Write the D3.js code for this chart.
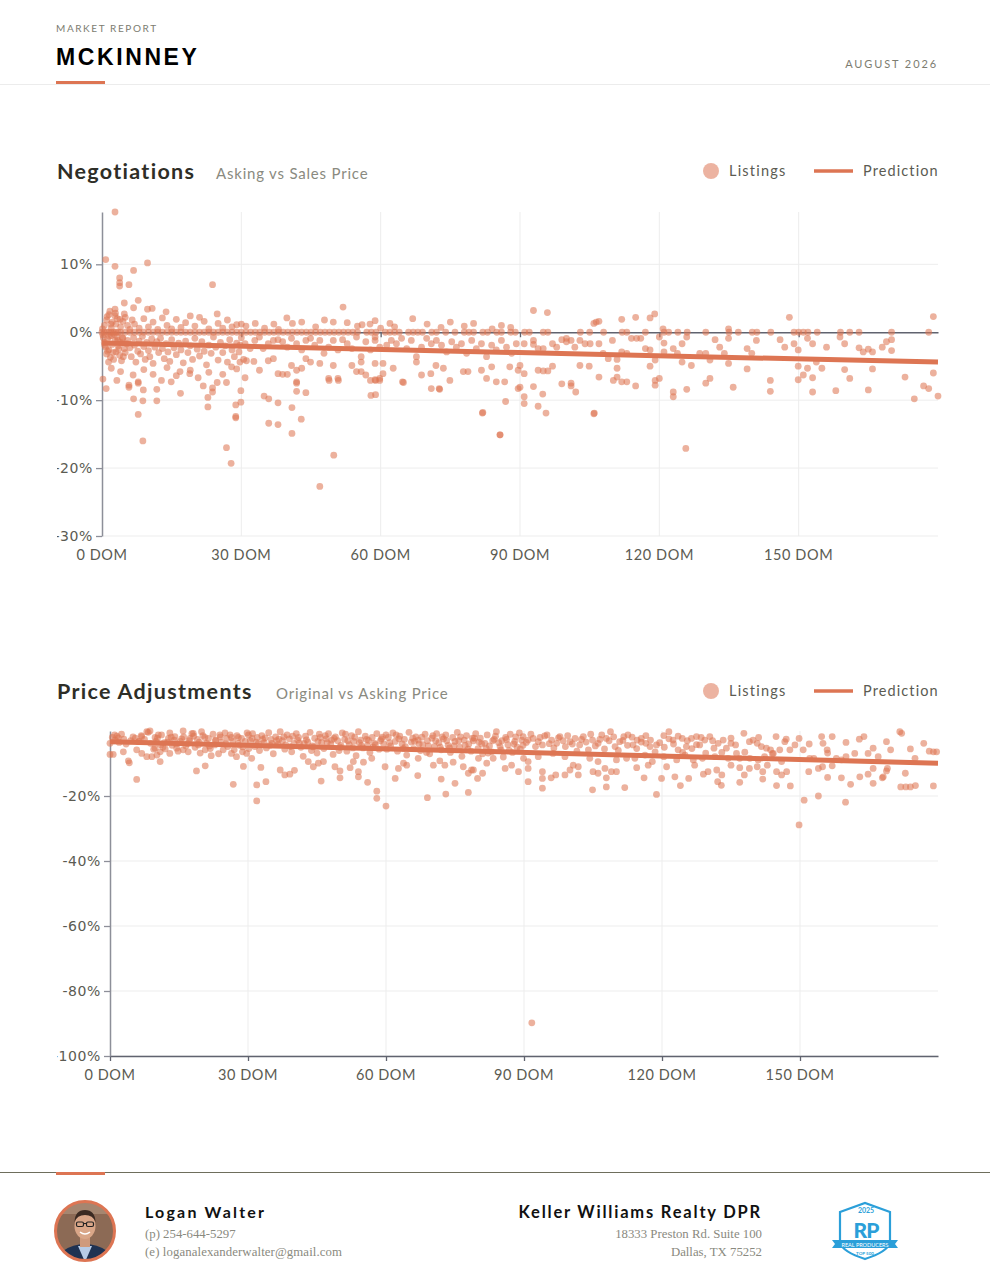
<!DOCTYPE html>
<html>
<head>
<meta charset="utf-8">
<script src="https://cdn.jsdelivr.net/npm/d3@7"></script>
<style>
  body { margin: 0; background: #fff; }
</style>
</head>
<body>
<div id="page"></div>
<script>
// ---- data ----
const domTicks = [0, 30, 60, 90, 120, 150];
const negYTicks = [10, 0, -10, -20, -30];
const adjYTicks = [-20, -40, -60, -80, -100];

// days on market of listings that sold exactly at asking price (0%)
const negAtAsking = [0,0.5,1,1.5,2,2.5,3,3.5,4,5,6,7,8,9,10,11,12,13,14,15,16,17,18,19,20,21,22,23,24,25,26,27,28,29,30,31,32,33,34,35,36,37,38,39,40,41,42,43,44,45,46,47,48,49,50,51,52,53,54,55,57,58,59,61,62,63,64,66,67,68,69,71,72,74,76,78,79,80,82,83,85,86,88,89,91,92,95,96,103,105,108,112,113,117,121,122,124,126,130,135,137,140,141,144,149,150,151,152,154,159,161,163,170,178];

// [days on market, % sale vs asking]
const negotiations = [
  [2.8,17.7],[0.8,10.7],[2.8,9.7],[9.8,10.2],[6.8,9.1],[3.8,8.0],[3.8,7.3],[3.8,6.8],[5.8,7.0],[23.8,7.0],[7.8,4.7],[4.8,4.3],[6.8,3.6],[9.8,3.4],[10.8,3.5],[1.7,3.1],[2.8,3.4],[13.8,3.0],[4.8,2.7],[2.8,2.4],[51.9,3.7],[39.8,2.1],[24.8,2.7],[66.9,2.0],[47.9,1.8],[49.8,1.5],[52.8,1.4],[58.8,1.7],[57.7,1.2],
  [0.5,1.0],[1,1.8],[1.5,2.6],[2,0.6],[2.2,1.5],[3,1.2],[3.3,2.0],[4,0.8],[4.5,1.6],[5,2.2],[5.5,1.0],[6,0.4],[6.5,1.8],[7,1.2],[8,0.6],[9,2.0],[10,0.8],[11,1.5],[12,0.4],[13,2.1],[14,1.0],[15,0.5],[16,1.9],[17,0.7],[18,1.4],[19,2.4],[20,0.9],[21,2.2],[22,1.6],[23,0.5],[25,1.3],[26,0.6],[27,1.8],[28,0.8],[29,1.1],[30,1.2],[31,0.9],[33,1.3],[35,0.6],[37,1.2],[38,0.4],[41,1.3],[43,1.5],[46,0.8],[55,0.9],[56,1.1],[60,0.6],[62,1.3],[63,0.8],[70,1.2],[73,0.7],[75,1.5],[78,0.9],[80,1.3],[84,0.5],[86,1.0],[88,0.7],
  [1.1,2.3],[1.9,1.2],[2.9,2.8],[3.9,1.9],[0.1,0.5],
  [92.9,3.2],[95.9,2.9],[105.9,1.3],[107,1.6],[111.9,1.9],[114.9,2.2],[118,2.1],[119,2.7],[148,2.2],[179,2.3],[120.8,0.5],[134.9,0.5],[106.4,1.5],
  [0.3,-0.8],[0.5,-1.5],[0.8,-2.2],[1,-3.2],[1.2,-1.0],[1.5,-2.6],[1.8,-3.7],[2,-0.5],[2.2,-1.8],[2.5,-4.0],[2.8,-1.2],[3,-2.9],[3.2,-0.7],[3.5,-2.0],[3.8,-3.4],[4,-1.5],[4.2,-4.2],[4.5,-0.9],[4.8,-2.4],[5,-3.0],[5.3,-1.7],[0.2,-0.4],[0.6,-1.9],[1.2,-2.8],[1.6,-0.6],[2.4,-3.0],[2.6,-0.3],[3.4,-1.2],[3.6,-2.5],[4.4,-0.8],[4.6,-3.6],[1.4,-4.4],
  [5.5,-1.2],[6,-2.3],[6.3,-3.6],[6.8,-0.8],[7,-1.9],[7.3,-4.4],[7.7,-2.8],[8,-1.3],[8.3,-3.2],[8.7,-0.6],[9,-2.1],[9.3,-4.0],[9.6,-1.5],[10,-2.7],[10.3,-3.6],[10.7,-1.0],[11,-4.6],[11.4,-2.2],[11.8,-1.4],[12.2,-3.0],[12.6,-0.9],[13,-2.4],[13.4,-3.9],[13.8,-1.7],[14.2,-2.9],[14.6,-4.3],[15,-1.1],[15.5,-2.3],[16,-3.3],[16.5,-1.6],[17,-2.6],[17.5,-4.5],[18,-1.3],[18.5,-3.0],[19,-2.0],[19.5,-4.0],[20,-0.9],[20.5,-2.5],[21,-3.5],[21.5,-1.4],[22,-2.8],[22.5,-4.8],[23,-1.9],[23.5,-3.1],[24,-0.7],[24.5,-2.2],[25,-4.1],[25.5,-1.5],[26,-3.0],[26.5,-2.0],[27,-4.4],[27.5,-1.1],[28,-2.6],[28.5,-3.6],[29,-1.6],[29.5,-2.9],[30,-0.8],[30.5,-4.0],
  [2,-5.3],[4,-5.8],[9,-5.5],[11,-6.2],[14,-5.2],[16,-6.4],[19,-5.6],[23,-5.9],[26,-6.2],[29,-5.4],
  [0.2,-6.9],[0.9,-8.3],[3.2,-7.1],[5.8,-7.8],[5.8,-8.1],[7.8,-7.3],[7.8,-7.5],[12.8,-7.1],[14.9,-7.3],[6.8,-9.8],[8.8,-10.1],[11.8,-8.4],[11.8,-10.1],[16.9,-9.0],[7.8,-12.1],[8.8,-16.0],[21.8,-7.9],[22.8,-9.6],[22.8,-11.0],[23.8,-8.2],[23.8,-8.8],[24.8,-7.4],[26.8,-7.4],[26.8,-17.0],[27.8,-19.3],[28.8,-10.7],[28.8,-12.4],[28.8,-12.6],[29.9,-8.6],[29.9,-10.3],
  [6.7,-6.3],[8.9,-8.5],[16.8,-5.8],[18.9,-6.1],[20.7,-6.7],[27.9,-5.1],[30.8,-6.7],
  [34.9,-9.4],[35.9,-9.8],[35.9,-13.4],[37.9,-10.4],[37.9,-13.6],[40.9,-11.1],[40.9,-14.9],[41.9,-7.3],[41.9,-7.5],[41.9,-8.7],[42.9,-12.8],[43.9,-8.9],[46.9,-22.7],[49.9,-18.1],[48.9,-7.1],[50.9,-7.1],[57.9,-9.3],[58.9,-9.2],[58.9,-7.1],[59.8,-7.1],[64.9,-7.4],[70.9,-8.3],[72.6,-8.3],
  [29.7,-1.9],[30.8,-1.7],[31.9,-2.4],[32.9,-1.2],[33.9,-0.7],[34.7,-2.4],[35.8,-1.7],[36.9,-1.2],[37.9,-1.1],[38.9,-1.4],[39.9,-2.2],[40.8,-0.9],[41.9,-1.7],[43,-2.6],[43.9,-1.2],[44.9,-0.9],[45.8,-1.9],[46.9,-1.2],[47.8,-3.1],[48.8,-2.2],[49.8,-1.2],[50.8,-2.6],[51.8,-1.1],[52.8,-1.7],[53.8,-2.4],[54.8,-0.7],[55.8,-3.6],[56.8,-1.4],[57.8,-2.6],[58.8,-0.7],[58.8,-1.2],[59.8,-2.2],
  [29.7,-4.4],[31.1,-4.2],[32.7,-4.3],[33.9,-5.6],[35.8,-4.2],[36.9,-3.9],[37.9,-6.1],[38.9,-6.2],[39.9,-6.2],[40.8,-4.9],[41.9,-5.6],[43,-5.3],[43.9,-3.9],[44.9,-4.4],[46.9,-4.6],[48.8,-6.8],[49.8,-4.9],[50.8,-6.8],[53.8,-4.9],[54.8,-5.8],[55.8,-4.4],[55.8,-5.8],[56.8,-6.3],[57.8,-7.1],[58.8,-4.6],[58.8,-7.0],[59.8,-6.8],
  [61.3,-1.9],[62.3,-1.2],[63.4,-1.7],[64.5,-0.9],[65.6,-2.4],[66.6,-1.2],[67.7,-3.6],[68.8,-2.2],[69.9,-0.9],[70.9,-1.7],[72,-1.2],[73.1,-1.9],[74.2,-2.9],[75.3,-1.4],[76.3,-2.2],[77.4,-1.7],[78.5,-3.1],[79.6,-1.2],[80.6,-2.4],[81.7,-1.7],[82.8,-3.6],[83.9,-1.9],[84.9,-2.6],[86,-1.2],[87.1,-2.2],[88.2,-3.1],[89.2,-1.7],
  [60.5,-4.6],[60.5,-6.1],[62.7,-5.3],[64.7,-7.3],[67.7,-4.4],[68.8,-6.3],[70.8,-6.1],[71.9,-4.9],[72.7,-8.4],[73.5,-5.3],[74.9,-7.1],[77.8,-5.8],[78.8,-5.8],[81.7,-5.6],[82.8,-6.8],[83.9,-5.1],[84.9,-7.3],[86.7,-7.3],[86.9,-10.2],[87.8,-5.1],[89.6,-5.6],[89.6,-8.3],[81.9,-11.9],[85.7,-15.1],
  [90.9,-1.7],[92.9,-1.2],[92.9,-1.8],[93.9,-2.4],[95,-2.4],[97,-1.7],[97.9,-2.2],[99,-1.1],[100,-0.9],[100,-1.4],[101,-1.2],[101.8,-2.2],[102.9,-1.2],[104,-1.7],[105.1,-1.7],[107,-1.7],[107.9,-3.1],[109,-3.9],[109.9,-1.2],[110.9,-4.0],[111.9,-2.9],[113,-3.1],[114,-0.9],[115.1,-0.9],[116,-0.9],[117,-2.4],[118,-2.6],[119.1,-4.1],[120,-0.7],[121,-1.6],[121,-2.9],[123,-2.4],[123.9,-3.1],[124.9,-1.7],[124.9,-4.4],[125.9,-0.7],[126.9,-4.9],[128.7,-3.1],[130,-3.1],[130.9,-4.1],[132,-1.1],[133,-2.2],[134,-3.1],[134.9,-0.9],[134.9,-4.6],[138.9,-2.4],[139.9,-3.1],[140.9,-1.2],[146,-1.1],[147,-2.2],[149,-1.7],[149.9,-2.6],[151.9,-0.9],[153,-1.7],[153.8,-4.4],[156,-2.2],[158.9,-0.7],[159.9,-1.7],[163,-2.3],[163.9,-2.9],[165,-2.5],[165.9,-2.9],[168,-2.2],[168.9,-1.4],[170,-1.1],[170,-2.7],
  [90,-4.9],[90.9,-6.1],[93.9,-5.6],[95,-5.7],[96,-5.7],[97,-5.0],[99,-7.6],[101,-7.5],[101,-7.9],[102,-8.8],[102.9,-4.9],[104.9,-5.0],[107,-6.6],[110.1,-7.1],[110.9,-5.3],[110.9,-6.6],[111.9,-7.3],[113,-7.3],[114.9,-7.9],[118,-5.0],[119.1,-7.1],[119.1,-7.8],[120,-6.8],[123,-8.8],[123,-9.5],[125.9,-8.4],[130,-7.5],[130.9,-6.8],[135.9,-8.1],[138.9,-5.4],[143.9,-7.1],[143.9,-8.7],[149.9,-5.0],[149.9,-7.0],[151,-6.3],[151.9,-5.3],[153,-6.7],[153,-8.8],[155,-5.3],[158,-8.6],[159.9,-5.5],[161,-6.8],[165,-8.5],[165.9,-5.4],[172.9,-6.6],[174.9,-9.8],[176.9,-7.9],[178,-8.3],[179,-6.0],[180,-9.4],[90,-8.1],[90.9,-9.5],[90.9,-10.5],[93.9,-10.9],[94.9,-9.1],[105.9,-12.0],[92.9,-8.0],
  [82,-11.8],[85.7,-15.1],[125.7,-17.1],[95.6,-11.9],[106,-11.9]
];

// [days on market, % asking vs original list price]
const adjustments = [
  [0,-3.8],[0,-7.2],[0.7,-7.2],[1.1,-2.8],[1.8,-2.1],[2.9,-6.4],[4,-9.2],[4.2,-9.8],[5.8,-14.9],[5.8,-5.8],[6.2,-3.3],[6.9,-1.7],[6.9,-6.9],[8,-0.2],[8,-7.9],[8.7,0],[9.1,-7.9],[9.8,-5.3],[10.9,-6.4],[10.9,-9.4],[11.2,-1.2],[12,-5.5],[12.7,-2.3],[13,-6.9],[14.1,-1.7],[14.5,-5.3],[15.9,0],[15.9,-5.8],[17,-6.4],[17.4,-2.3],[18.1,-0.7],[18.8,-12.3],[19.2,-4.3],[19.9,-0.2],[20.7,-5.8],[20.7,-10.7],[21.4,-2.3],[22,-7.6],[22.8,-4.3],[23.9,-1.2],[24.6,-5.8],[25.4,-2.3],[26.1,-1.2],[26.4,-6.9],[26.8,-16.4],[27.5,-7.9],[27.9,-3.8],[28.6,-2.3],[29,-10.9],[29.7,-6.9],[30.1,-1.2],
  [0.5,-2.0],[1,-1.2],[1.5,-1.6],[2,-3.5],[2.5,-1.0],[3,-2.5],[3.5,-4.0],[4.5,-3.0],[5,-1.8],[5.5,-2.2],[6.3,-3.2],[6.8,-1.4],[7.5,-2.6],[8.3,-0.4],[8.8,-3.8],[9.5,-5.6],[9.8,-2.0],[10.2,-7.4],[11,-4.2],
  [10,-3.2],[10.5,-1.2],[11.5,-5.0],[12.5,-3.4],[13,-0.6],[13.5,-4.4],[14,-2.8],[14.8,-6.2],[15.3,-3.2],[16,-1.8],[16.5,-4.6],[17.2,-3.0],[17.8,-0.8],[18.5,-5.0],[19,-2.6],[19.6,-6.8],[20.2,-1.4],[21,-3.8],[21.8,-5.4],[22.4,-1.0],[23,-2.8],[23.6,-7.0],[24.2,-3.4],[25,-0.6],[25.6,-4.8],[26.4,-2.0],[27,-5.8],[27.6,-1.4],[28.2,-4.4],[28.8,-6.4],[29.4,-3.2],[29.8,-0.6],
  [10.3,-2.2],[11.8,-3.6],[13.3,-1.9],[14.4,-4.0],[15.6,-2.4],[16.8,-3.9],[18.2,-1.6],[19.4,-3.4],[20.6,-2.0],[21.6,-4.6],[22.9,-3.0],[24,-1.8],[25.2,-4.0],[26.7,-3.1],[27.9,-2.0],[28.9,-4.9],
  [30.5,-3.0],[31,-0.8],[31.5,-4.8],[32,-2.0],[32.5,-6.0],[33,-1.4],[33.5,-3.6],[34,-5.2],[34.5,-0.5],[35,-2.6],[35.5,-7.0],[36,-1.8],[36.5,-4.2],[37,-0.2],[37.5,-3.0],[38,-5.6],[38.5,-1.2],[39,-2.4],[39.5,-6.4],[40,-3.8],[40.5,-0.8],[41,-2.0],[41.5,-5.0],[42,-7.8],[42.5,-1.6],[43,-3.4],[43.5,-0.4],[44,-4.6],[44.5,-2.2],[45,-6.8],[45.5,-1.0],[46,-3.6],[46.5,-5.4],[47,-2.4],[47.5,-0.8],[48,-4.0],[48.5,-7.2],[49,-1.8],[49.5,-3.0],[50,-5.0],[50.5,-0.6],[51,-2.6],[51.5,-6.2],[52,-4.2],[52.5,-1.4],[53,-3.2],[53.5,-7.6],[54,-0.2],[54.5,-2.8],[55,-5.2],[55.5,-1.6],[56,-4.4],[56.5,-6.6],[57,-2.0],[57.5,-3.8],[58,-0.8],[58.5,-5.6],[59,-2.4],[59.5,-4.0],[60,-1.2],
  [30.2,-5.4],[31.8,-3.4],[33.2,-2.6],[34.8,-4.4],[36.2,-3.0],[37.8,-1.8],[39.2,-4.8],[40.8,-2.8],[42.2,-3.8],[43.8,-6.0],[45.2,-3.2],[46.8,-1.4],[48.2,-2.8],[49.8,-6.0],[51.2,-1.0],[52.8,-5.2],[54.2,-3.6],[55.8,-2.6],[57.2,-5.0],[58.8,-3.0],
  [30.9,-2.3],[32.2,-4.0],[33.7,-2.1],[35.2,-3.8],[36.7,-2.5],[38.2,-4.3],[39.7,-1.6],[41.2,-3.7],[42.7,-2.7],[44.2,-4.9],[45.7,-2.0],[47.2,-3.6],[48.7,-2.3],[50.2,-4.4],[51.7,-3.0],[53.2,-1.9],[54.7,-4.5],[56.2,-2.9],[57.7,-4.2],[59.2,-1.9],
  [60.5,-2.0],[61,-4.6],[61.5,-0.6],[62,-3.2],[62.5,-6.2],[63,-1.6],[63.5,-4.0],[64,-2.6],[64.5,-7.4],[65,-0.4],[65.5,-3.4],[66,-5.4],[66.5,-1.8],[67,-2.8],[67.5,-6.0],[68,-4.2],[68.5,-1.0],[69,-3.0],[69.5,-7.0],[70,-2.2],[70.5,-4.8],[71,-0.8],[71.5,-3.6],[72,-5.8],[72.5,-2.4],[73,-1.2],[73.5,-4.4],[74,-6.6],[74.5,-2.0],[75,-3.2],[75.5,-0.4],[76,-5.0],[76.5,-7.8],[77,-2.8],[77.5,-1.4],[78,-4.0],[78.5,-6.2],[79,-3.0],[79.5,-0.8],[80,-5.4],[80.5,-2.2],[81,-7.0],[81.5,-3.8],[82,-1.2],[82.5,-4.6],[83,-6.4],[83.5,-2.6],[84,-0.2],[84.5,-3.6],[85,-5.8],[85.5,-8.0],[86,-2.0],[86.5,-4.2],[87,-1.0],[87.5,-6.6],[88,-3.2],[88.5,-5.0],[89,-0.6],[89.5,-2.8],
  [60.2,-5.6],[62.2,-1.2],[63.8,-5.4],[65.8,-2.2],[67.2,-4.0],[68.8,-6.6],[70.2,-1.4],[71.8,-5.0],[73.2,-3.0],[74.8,-4.6],[76.2,-1.8],[77.8,-5.6],[79.2,-2.2],[80.8,-4.0],[82.2,-6.8],[83.8,-1.6],[85.2,-3.0],[86.8,-6.0],[88.2,-1.8],[89.8,-4.4],
  [60.8,-3.6],[62.8,-2.4],[64.2,-4.8],[66.2,-3.2],[67.8,-1.9],[69.2,-4.6],[70.8,-3.0],[72.2,-1.8],[73.8,-5.2],[75.8,-3.0],[77.2,-4.4],[78.8,-2.2],[80.2,-3.4],[81.8,-5.4],[83.2,-3.0],[84.8,-4.8],[86.2,-2.6],[87.8,-4.0],[89.2,-5.6],
  [30.8,-8.4],[32.8,-11.2],[37,-12],[38,-13.5],[39.1,-13.3],[40.1,-12.1],[43.1,-9.4],[44.2,-11],[45.3,-9.9],[46.4,-9.4],[48.9,-11],[50,-12.3],[52.2,-11.3],[52.9,-9.4],[55.1,-9.6],[56.9,-8.4],[59.8,-11],[62.7,-11.5],[63.8,-9.9],[64.5,-10.5],[67,-8.4],[70.3,-10.5],[71.7,-9.2],[72.8,-10.5],[74.6,-9.6],[76.8,-11],[78.6,-12],[80.1,-8.4],[81.9,-9.9],[83.3,-8.4],[85.9,-11.5],[87.3,-10.5],[88.8,-12.5],[89.9,-8.4],
  [31.9,-16.6],[31.9,-21.5],[33.9,-15.6],[45.9,-15.4],[50,-14.4],[54,-14.1],[54,-12.5],[56,-15.8],[58,-18.5],[58,-20.7],[60,-23.1],[62,-14.6],[66.9,-13.7],[69,-20.5],[72,-14.8],[73,-19.4],[75,-16.1],[77.9,-18.9],[77.9,-13],[79.9,-14.6],[81,-13],[79,-12],
  [89.8,-1.7],[90.9,-2.8],[92,-2.3],[93.1,-3.3],[94,-4.3],[95,-1.2],[96,-2.8],[97.1,-3.8],[97.8,-1.7],[99,-4.8],[100,-3.3],[101.1,-2.3],[102.1,-4.3],[102.9,-1.7],[104,-5.8],[104.9,-2.8],[106.1,-3.8],[106.9,-1.2],[107.9,-2.3],[108.8,-0.2],[109.8,-4.8],[110.8,-3.3],[111.7,-1.7],[112.6,-1.2],[113.7,-4.3],[114.6,-2.8],[115.5,-2.3],[116.5,-3.8],[117.4,-4.8],[117.9,-9.4],[118.8,-4.3],[120.4,-1.4],[121.5,-0.2],[122.4,-2.8],[123.5,-5.8],[124.4,-2.3],[125.3,-4.8],[126.4,-2.3],[127.5,-1.7],[128.2,-4.3],[129.3,-2.8],[130.4,-1.7],[131.3,-5.3],[132.2,-3.8],[133.3,-2.8],[134,-5.3],[135,-3.8],[136,-4.3],[136.9,-8.4],[137.8,-0.7],[139,-3.3],[139.8,-2.8],[140.7,-3.8],[141.6,-4.8],[142.7,-5.3],[143.6,-5.8],[144.8,-1.7],[145.6,-5.8],[146.7,-3.3],[147.8,-5.8],[148.9,-4.3],[149.8,-2.3],[150.7,-5.8],[152.1,-8.4],[153,-8.4],[154.7,-1.7],[155,-3.8],[155.9,-5.8],[157,-1.7],[157.9,-8.4],[159,-8.9],[160,-7.9],[161.9,-6.9],[162.9,-2.5],[163.9,-1.7],[164.8,-6.9],[165.9,-5.3],[167,-7.9],[168.8,-3.3],[169.7,-5.8],[171.7,-0.2],[172.1,-0.7],[174,-5.5],[175,-8.4],[176.9,-3.8],[178.1,-6.2],[179,-6.4],[179.7,-6.4],
  [90.5,-3.5],[91.5,-1.0],[92.5,-4.8],[93.5,-2.0],[94.5,-1.5],[95.5,-3.9],[96.5,-5.2],[97.5,-2.1],[98.5,-3.0],[99.5,-1.4],[100.5,-4.0],[101.5,-6.2],[102.5,-2.6],[103.5,-3.4],[104.5,-1.0],[105.5,-4.6],[106.5,-2.6],[107.5,-5.5],[108.5,-3.0],[109.5,-1.8],[110.5,-6.0],[111.5,-2.9],[112.5,-4.4],[113.5,-1.9],[114.5,-5.4],[115.5,-3.4],[116.5,-1.4],[117.5,-2.8],[118.5,-6.4],[119.5,-3.6],[120.5,-5.0],[121.5,-2.4],[122.5,-4.0],[123.5,-1.6],[124.5,-6.6],[125.5,-3.0],[126.5,-5.4],[127.5,-4.2],[128.5,-2.0],[129.5,-6.8],[131,-3.0],[133,-6.6],[135,-2.2],[138,-6.5],[141,-2.0],[144,-7.0],[147,-2.5],[152,-4.0],[156,-6.8],[160,-3.5],
  [90.9,-9.4],[93.1,-7.9],[96.3,-6.9],[98.9,-7.9],[100.7,-10.5],[104.3,-8.4],[106.1,-9.4],[107.6,-11.5],[110.1,-8.9],[112.3,-8.4],[114.1,-8.4],[116.3,-7.4],[117,-10.5],[120.4,-7.9],[123.2,-8.9],[125,-7.4],[126.8,-8.9],[128.8,-8.4],[131.5,-7.9],[134.4,-8.4],[136.2,-6.9],[139.1,-8.4],[140.9,-8.9],[142.3,-7.9],[144.2,-6.9],[146,-9.4],
  [90.9,-11.5],[94,-12.5],[96.9,-13.5],[98.9,-13.5],[100,-12],[101.8,-13.5],[101.8,-11],[105,-12.5],[106.1,-13],[107.9,-14.4],[109,-12.5],[110.1,-12.5],[114.5,-11.3],[119.9,-14.6],[121,-11],[122.8,-14.1],[127.1,-10.5],[129,-13.3],[130,-12.5],[131.9,-12],[133,-13.5],[135,-10.5],[136.9,-11.3],[137.9,-13.5],[139,-11.5],[140.7,-11],[141.9,-12.5],[142.9,-10.5],[144.9,-12.5],[146,-13.5],[147.1,-12.5],[151.9,-12.5],[154,-11.5],[154.9,-11],[157,-10.7],[165.9,-11.5],[167.9,-14.4],[168.8,-12.3],[169,-11.5],[172.9,-13],
  [150.9,-21.3],[149.8,-28.9],[154,-20],[159.9,-21.9],[118.8,-19.5],[104.9,-18.1],[107.9,-17.2],[111.9,-17.4],[124,-16.8],[132.9,-16.7],[136.9,-15.8],[144.9,-16.8],[147.9,-16.9],[94,-17.6],[90.9,-15.6],[94,-14.6],[95.9,-14.4],[116.1,-14.4],[125.8,-14.6],[132.1,-15.6],[141.9,-14.8],[161,-16.4],[165.9,-16.1],[163,-14.1],[168.1,-14.1],[156,-14.3],[159,-14.4],[164.8,-13.3],[171.9,-17.2],[173,-17.2],[174,-17.2],[175.1,-16.8],[179,-16.9],
  [91.7,-89.8]
];

// trend line end points [dom, %]
const negTrend = [[0,-1.6],[180,-4.4]];
const adjTrend = [[0,-3.3],[180,-9.9]];

// ---- page ----
const W = 990, H = 1276;
const accent = "#dd7553";
const inkGray = "#5b5b52";
const softGray = "#8a8a80";
const sans = "Lato, 'Noto Sans', sans-serif";
const serif = "'Liberation Serif', 'DejaVu Serif', serif";

const svg = d3.select("#page").append("svg")
    .attr("width", W)
    .attr("height", H)
    .style("font-family", sans);

const defs = svg.append("defs");
defs.append("clipPath").attr("id", "labelClip")
  .append("rect").attr("x", 57).attr("y", 0).attr("width", W).attr("height", H);
defs.append("clipPath").attr("id", "avatarClip")
  .append("circle").attr("cx", 85).attr("cy", 1231).attr("r", 29);

// header
svg.append("text")
    .attr("x", 56).attr("y", 32)
    .attr("font-size", "10px")
    .attr("letter-spacing", "1.6px")
    .attr("fill", "#7c7c70")
    .text("MARKET REPORT");

svg.append("text")
    .attr("x", 56).attr("y", 65)
    .style("font-family", "'Liberation Sans', Arial, sans-serif")
    .attr("font-size", "23px")
    .attr("font-weight", "bold")
    .attr("letter-spacing", "2.6px")
    .attr("fill", "#000")
    .text("MCKINNEY");

svg.append("text")
    .attr("x", 938).attr("y", 68)
    .attr("text-anchor", "end")
    .attr("font-size", "11px")
    .attr("letter-spacing", "1.9px")
    .attr("fill", "#7c7c70")
    .text("AUGUST 2026");

svg.append("line")
    .attr("x1", 0).attr("x2", W).attr("y1", 84.5).attr("y2", 84.5)
    .attr("stroke", "#ececec");
svg.append("rect")
    .attr("x", 56).attr("y", 81).attr("width", 49).attr("height", 3)
    .attr("fill", accent);

function drawChart(o) {
    const g = svg.append("g");

    const x = d3.scaleLinear().domain([0, 180]).range([o.left, 938]);
    const y = d3.scaleLinear().domain(o.yDomain).range([o.bottom, o.top]);

    // title + subtitle
    g.append("text")
        .attr("x", 57).attr("y", o.titleY)
        .attr("font-size", "21.5px")
        .attr("font-weight", "bold")
        .attr("letter-spacing", "1.3px")
        .attr("fill", "#2e2e27")
        .text(o.title);
    g.append("text")
        .attr("x", o.subX).attr("y", o.titleY)
        .attr("font-size", "15px")
        .attr("letter-spacing", "0.8px")
        .attr("fill", softGray)
        .text(o.subtitle);

    // legend
    const ly = o.titleY - 8;
    g.append("circle")
        .attr("cx", 711).attr("cy", ly).attr("r", 8)
        .attr("fill", accent).attr("fill-opacity", 0.55);
    g.append("text")
        .attr("x", 729).attr("y", ly + 5)
        .attr("font-size", "14.5px").attr("letter-spacing", "1.2px")
        .attr("fill", inkGray)
        .text("Listings");
    g.append("line")
        .attr("x1", 814).attr("x2", 853).attr("y1", ly).attr("y2", ly)
        .attr("stroke", accent).attr("stroke-width", 3.5);
    g.append("text")
        .attr("x", 863).attr("y", ly + 5)
        .attr("font-size", "14.5px").attr("letter-spacing", "1.1px")
        .attr("fill", inkGray)
        .text("Prediction");

    // grid
    g.append("g").selectAll("line")
        .data(domTicks.filter(d => d > 0))
        .join("line")
        .attr("x1", d => x(d)).attr("x2", d => x(d))
        .attr("y1", o.top).attr("y2", o.bottom)
        .attr("stroke", "#ededed");
    g.append("g").selectAll("line")
        .data(o.yTicks.filter(d => d !== 0))
        .join("line")
        .attr("x1", o.left).attr("x2", 938)
        .attr("y1", d => y(d)).attr("y2", d => y(d))
        .attr("stroke", "#ededed");

    // baseline axis (ticks only)
    const xa = g.append("g")
        .attr("transform", `translate(0,${y(o.axisAt)})`)
        .call(d3.axisBottom(x).tickValues(domTicks).tickSize(5).tickSizeOuter(0).tickFormat(""));
    xa.select(".domain").attr("stroke", "#60636f").attr("stroke-width", 1.3);
    xa.selectAll(".tick line").attr("stroke", "#60636f").attr("stroke-width", 1.3);

    // y axis (labels clipped at the page margin)
    const ya = g.append("g")
        .attr("clip-path", "url(#labelClip)")
      .append("g")
        .attr("transform", `translate(${o.left},0)`)
        .call(d3.axisLeft(y).tickValues(o.yTicks).tickSize(6).tickSizeOuter(0).tickPadding(3)
            .tickFormat(d => d + "%"));
    ya.select(".domain").attr("stroke", "#8d8f99").attr("stroke-width", 1.5);
    ya.selectAll(".tick line").attr("stroke", "#8d8f99").attr("stroke-width", 1.3);
    ya.selectAll(".tick text")
        .style("font-family", "'DejaVu Sans', sans-serif")
        .attr("font-size", "14px")
        .attr("letter-spacing", "0.6px")
        .attr("fill", inkGray);

    // x labels along the bottom
    g.append("g").selectAll("text")
        .data(domTicks)
        .join("text")
        .attr("x", d => x(d))
        .attr("y", o.bottom + 24)
        .attr("text-anchor", "middle")
        .attr("font-size", "14.5px")
        .attr("letter-spacing", "0.6px")
        .attr("fill", inkGray)
        .text(d => d + " DOM");

    // points
    g.append("g").selectAll("circle")
        .data(o.points)
        .join("circle")
        .attr("cx", d => x(d[0]))
        .attr("cy", d => y(d[1]))
        .attr("r", 3.4)
        .attr("fill", accent)
        .attr("fill-opacity", 0.57);

    // prediction line
    g.append("path")
        .datum(o.trend)
        .attr("d", d3.line().x(d => x(d[0])).y(d => y(d[1])))
        .attr("fill", "none")
        .attr("stroke", accent)
        .attr("stroke-width", 5);
}

drawChart({
    title: "Negotiations",
    subtitle: "Asking vs Sales Price",
    subX: 216,
    titleY: 179,
    left: 102, top: 212, bottom: 536,
    yDomain: [-30, 17.7],
    yTicks: negYTicks,
    axisAt: 0,
    points: negAtAsking.map(d => [d, 0]).concat(negotiations),
    trend: negTrend
});

drawChart({
    title: "Price Adjustments",
    subtitle: "Original vs Asking Price",
    subX: 276,
    titleY: 699,
    left: 110, top: 731, bottom: 1056,
    yDomain: [-100, 0],
    yTicks: adjYTicks,
    axisAt: -100,
    points: adjustments,
    trend: adjTrend
});

// footer
svg.append("line")
    .attr("x1", 0).attr("x2", W).attr("y1", 1172.5).attr("y2", 1172.5)
    .attr("stroke", "#6e6e5c");
svg.append("rect")
    .attr("x", 56).attr("y", 1172).attr("width", 49).attr("height", 3)
    .attr("fill", accent);

// avatar
const av = svg.append("g").attr("clip-path", "url(#avatarClip)");
av.append("rect").attr("x", 50).attr("y", 1196).attr("width", 70).attr("height", 70).attr("fill", "#8c6a55");
av.append("rect").attr("x", 50).attr("y", 1196).attr("width", 70).attr("height", 18).attr("fill", "#a58670");
av.append("ellipse").attr("cx", 85).attr("cy", 1266).attr("rx", 30).attr("ry", 22).attr("fill", "#1f3252");
av.append("path").attr("d", "M78,1246 L85,1262 L92,1246 Z").attr("fill", "#b7cbe6");
av.append("rect").attr("x", 80).attr("y", 1236).attr("width", 10).attr("height", 11).attr("fill", "#cf9a7c");
av.append("ellipse").attr("cx", 85).attr("cy", 1226).attr("rx", 10.5).attr("ry", 13).attr("fill", "#d9a688");
av.append("path").attr("d", "M74.5,1222 Q75,1210 85,1210 Q95,1210 95.5,1222 Q93,1215 85,1215 Q77,1215 74.5,1222 Z").attr("fill", "#3b2a22");
av.append("g").attr("stroke", "#222").attr("stroke-width", 1.2).attr("fill", "none")
  .call(s => {
      s.append("rect").attr("x", 76.5).attr("y", 1222).attr("width", 7).attr("height", 4.5).attr("rx", 1.5);
      s.append("rect").attr("x", 86.5).attr("y", 1222).attr("width", 7).attr("height", 4.5).attr("rx", 1.5);
      s.append("line").attr("x1", 83.5).attr("x2", 86.5).attr("y1", 1223.5).attr("y2", 1223.5);
  });
av.append("path").attr("d", "M80,1232 Q85,1236 90,1232").attr("stroke", "#fff").attr("stroke-width", 1.5).attr("fill", "none");
svg.append("circle")
    .attr("cx", 85).attr("cy", 1231).attr("r", 29.5)
    .attr("fill", "none").attr("stroke", accent).attr("stroke-width", 3);

svg.append("text")
    .attr("x", 145).attr("y", 1218)
    .attr("font-size", "16px").attr("font-weight", "bold").attr("letter-spacing", "2.2px")
    .attr("fill", "#111")
    .text("Logan Walter");
svg.append("text")
    .attr("x", 145).attr("y", 1238)
    .style("font-family", serif)
    .attr("font-size", "12.8px").attr("fill", softGray)
    .text("(p) 254-644-5297");
svg.append("text")
    .attr("x", 145).attr("y", 1256)
    .style("font-family", serif)
    .attr("font-size", "12.8px").attr("letter-spacing", "0.1px").attr("fill", softGray)
    .text("(e) loganalexanderwalter@gmail.com");

svg.append("text")
    .attr("x", 762).attr("y", 1218).attr("text-anchor", "end")
    .attr("font-size", "16.5px").attr("font-weight", "bold").attr("letter-spacing", "1.8px")
    .attr("fill", "#111")
    .text("Keller Williams Realty DPR");
svg.append("text")
    .attr("x", 762).attr("y", 1238).attr("text-anchor", "end")
    .style("font-family", serif)
    .attr("font-size", "12.8px").attr("fill", softGray)
    .text("18333 Preston Rd. Suite 100");
svg.append("text")
    .attr("x", 762).attr("y", 1256).attr("text-anchor", "end")
    .style("font-family", serif)
    .attr("font-size", "12.8px").attr("fill", softGray)
    .text("Dallas, TX 75252");

// real producers badge
const blue = "#2b9fd9";
const badge = svg.append("g");
badge.append("path")
    .attr("d", "M840,1212 L865,1203 L890,1212 L890,1243 Q887,1252 865,1259 Q843,1252 840,1243 Z")
    .attr("fill", "#fff").attr("stroke", blue).attr("stroke-width", 2.2);
badge.append("text")
    .attr("x", 866).attr("y", 1213).attr("text-anchor", "middle")
    .attr("font-size", "7px").attr("font-weight", "bold").attr("fill", blue)
    .text("2025");
badge.append("text")
    .attr("x", 866).attr("y", 1238).attr("text-anchor", "middle")
    .attr("font-size", "21px").attr("font-weight", "900").attr("letter-spacing", "-1px").attr("fill", blue)
    .text("RP");
badge.append("path")
    .attr("d", "M832,1240 L898,1240 L895,1244 L898,1248 L832,1248 L835,1244 Z")
    .attr("fill", blue);
badge.append("text")
    .attr("x", 865).attr("y", 1246.5).attr("text-anchor", "middle")
    .attr("font-size", "5.5px").attr("fill", "#fff")
    .text("REAL PRODUCERS");
badge.append("text")
    .attr("x", 865).attr("y", 1254.5).attr("text-anchor", "middle")
    .attr("font-size", "4.5px").attr("font-weight", "bold").attr("fill", blue)
    .text("TOP 500");
</script>
</body>
</html>
